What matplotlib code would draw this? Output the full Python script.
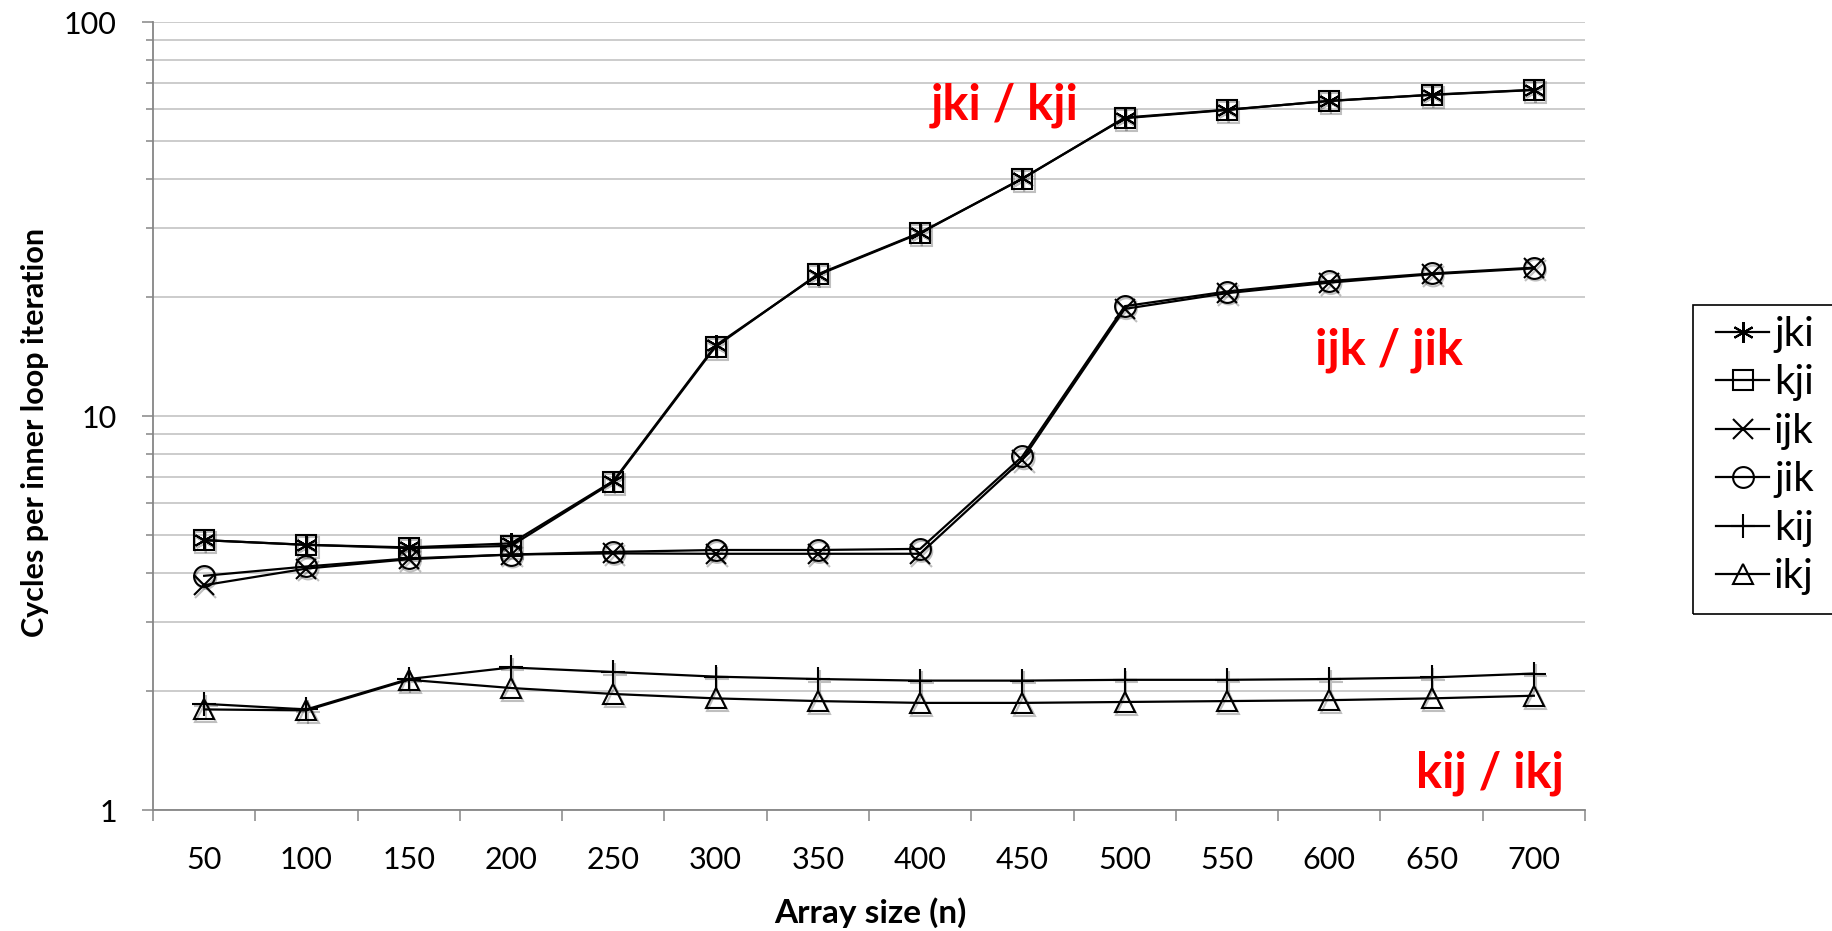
import numpy as np
import matplotlib
matplotlib.use("Agg")
import matplotlib.pyplot as plt
import matplotlib.patheffects as pe
from matplotlib.patches import Rectangle
from matplotlib.ticker import FixedLocator, NullFormatter, FixedFormatter, LogLocator

plt.rcParams['font.family'] = ['Lato', 'DejaVu Sans']

# data
sizes = [50, 100, 150, 200, 250, 300, 350, 400, 450, 500, 550, 600, 650, 700]
jki = [4.84, 4.71, 4.64, 4.75, 6.84, 15.1, 22.8, 29.1, 40.1, 57.0, 59.8, 63.1, 65.3, 67.2]
kji = [4.84, 4.71, 4.62, 4.68, 6.80, 15.0, 22.9, 29.2, 40.0, 57.2, 59.9, 63.0, 65.4, 67.3]
ijk = [3.72, 4.10, 4.33, 4.45, 4.48, 4.47, 4.47, 4.47, 7.75, 18.7, 20.5, 21.8, 22.9, 23.7]
jik = [3.93, 4.15, 4.35, 4.45, 4.52, 4.57, 4.57, 4.60, 7.90, 19.0, 20.7, 22.0, 23.0, 23.8]
kij = [1.86, 1.80, 2.15, 2.30, 2.24, 2.18, 2.15, 2.13, 2.13, 2.14, 2.14, 2.15, 2.17, 2.22]
ikj = [1.80, 1.79, 2.14, 2.04, 1.97, 1.92, 1.89, 1.87, 1.87, 1.88, 1.89, 1.90, 1.92, 1.95]

series = [('jki', jki, (6, 2, 0), 15),
          ('kji', kji, 's', 15),
          ('ijk', ijk, 'x', 15),
          ('jik', jik, 'o', 15),
          ('kij', kij, '+', 17),
          ('ikj', ikj, '^', 15)]

fig = plt.figure(figsize=(18.32, 9.31), dpi=100)
ax = fig.add_axes([153/1832, 1-810/931, (1585-153)/1832, (810-22)/931])

x = np.arange(len(sizes))
shadow = [pe.SimpleLineShadow(offset=(1.2, -1.8), shadow_color='black', alpha=0.25)]
for name, vals, mk, ms in series:
    # marker shadows (Excel style), drawn underneath
    ax.plot(x, vals, ls='none', marker=mk, ms=ms, mfc='none', mec='black', mew=1.5,
            path_effects=shadow, zorder=2.5)
    ax.plot(x, vals, color='black', lw=1.6, marker=mk, ms=ms,
            mfc='none', mec='black', mew=1.5, label=name, zorder=3)

ax.set_yscale('log')
ax.set_ylim(1, 100)
ax.set_xlim(-0.5, len(sizes) - 0.5)

# y axis: decades plus minor grid
ax.yaxis.set_major_locator(FixedLocator([1, 10, 100]))
ax.yaxis.set_major_formatter(FixedFormatter(['1', '10', '100']))
ax.yaxis.set_minor_locator(LogLocator(base=10, subs=np.arange(2, 10)))
ax.yaxis.set_minor_formatter(NullFormatter())
ax.grid(True, which='both', axis='y', color='#bfbfbf', lw=1.1, zorder=0)

# x axis: ticks between categories, labels at categories
ax.xaxis.set_major_locator(FixedLocator(np.arange(-0.5, len(sizes), 1.0)))
ax.xaxis.set_major_formatter(NullFormatter())
ax.xaxis.set_minor_locator(FixedLocator(x))
ax.xaxis.set_minor_formatter(FixedFormatter([str(s) for s in sizes]))

ax.tick_params(axis='x', which='major', direction='out', length=8, width=1.1, color='#868686')
ax.tick_params(axis='x', which='minor', length=0, pad=26, labelsize=22)
ax.tick_params(axis='y', which='major', direction='out', length=8, width=1.1, color='#868686',
               pad=18, labelsize=22)
ax.tick_params(axis='y', which='minor', direction='out', length=5, width=1.1, color='#868686')

for side in ['top', 'right']:
    ax.spines[side].set_visible(False)
for side in ['left', 'bottom']:
    ax.spines[side].set_color('#868686')
    ax.spines[side].set_linewidth(1.3)

fig.text(35/1832, 1-432/931, 'Cycles per inner loop iteration', rotation=90,
         ha='center', va='center', fontsize=22, fontweight='bold')
fig.text(870/1832, 1-913/931, 'Array size (n)', ha='center', va='center',
         fontsize=24, fontweight='bold')

# red group labels
ax.text(1005/1832, 1-105/931, 'jki / kji', transform=fig.transFigure, color='red',
        fontsize=35, fontweight='bold', ha='center', va='center')
ax.text(1389/1832, 1-350/931, 'ijk / jik', transform=fig.transFigure, color='red',
        fontsize=35, fontweight='bold', ha='center', va='center')
ax.text(1490/1832, 1-773/931, 'kij / ikj', transform=fig.transFigure, color='red',
        fontsize=35, fontweight='bold', ha='center', va='center')

# legend content without frame; the box is drawn separately (runs off the right edge)
handles, labels = ax.get_legend_handles_labels()
leg = fig.legend(handles, labels, loc='upper left', bbox_to_anchor=(1716/1832, 1-316/931),
                 frameon=False, fontsize=29, handlelength=1.32,
                 handletextpad=0.12, labelspacing=0.285, borderpad=0,
                 borderaxespad=0)
fig.patches.append(Rectangle((1693/1832, 1-614/931), 0.2, (614-305)/931,
                             transform=fig.transFigure, fill=False,
                             edgecolor='black', lw=1.2))

fig.savefig('out.png', dpi=100)
